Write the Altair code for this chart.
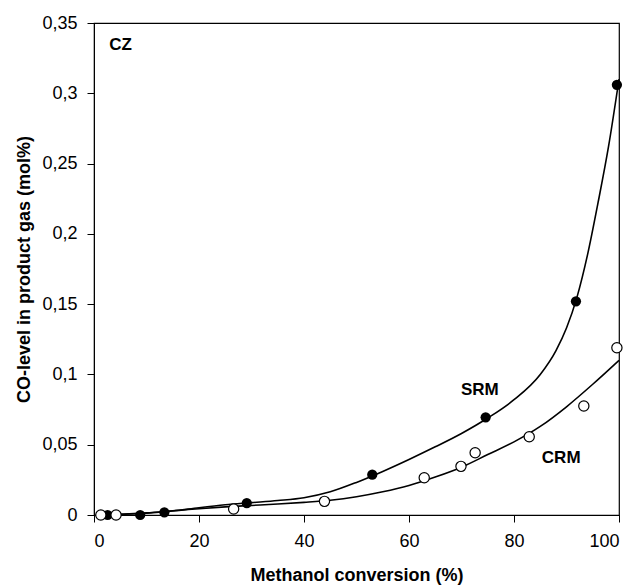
import altair as alt
import pandas as pd

# Measured points: steam reforming (SRM) and combined reforming (CRM)
srm_x = [2.6, 8.8, 13.4, 29.1, 53.0, 74.6, 91.8, 99.6]
srm_y = [0.0, 0.0, 0.0019, 0.0085, 0.0287, 0.0695, 0.152, 0.306]

crm_x = [1.3, 4.2, 26.6, 43.9, 62.9, 69.9, 72.6, 82.9, 93.3, 99.6]
crm_y = [0.0, 0.0, 0.0043, 0.0097, 0.0265, 0.0346, 0.0443, 0.0557, 0.0775, 0.119]

# Fitted trend curves
srm_fit_x = [1, 5, 10, 15, 20, 25, 30, 35, 40, 45, 50, 55, 60, 65, 70, 75, 80, 85, 88, 90, 92, 94, 96, 98, 100]
srm_fit_y = [0.0, 0.0005, 0.0012, 0.0028, 0.0052, 0.0073, 0.0088, 0.0103, 0.0123, 0.0165, 0.0232, 0.031, 0.0395, 0.0485, 0.058, 0.069, 0.082, 0.100, 0.117, 0.133, 0.155, 0.185, 0.222, 0.262, 0.310]

crm_fit_x = [1, 5, 10, 15, 20, 25, 30, 35, 40, 45, 50, 55, 60, 65, 70, 75, 80, 85, 90, 95, 100]
crm_fit_y = [0.0, 0.0005, 0.0015, 0.003, 0.0045, 0.0058, 0.0068, 0.0078, 0.009, 0.0105, 0.013, 0.0165, 0.021, 0.027, 0.034, 0.043, 0.052, 0.063, 0.077, 0.093, 0.110]

x_ticks = [0, 20, 40, 60, 80, 100]
y_ticks = [0, 0.05, 0.1, 0.15, 0.2, 0.25, 0.3, 0.35]

srm = pd.DataFrame({"x": srm_x, "y": srm_y})
crm = pd.DataFrame({"x": crm_x, "y": crm_y})
srm_fit = pd.DataFrame({"x": srm_fit_x, "y": srm_fit_y})
crm_fit = pd.DataFrame({"x": crm_fit_x, "y": crm_fit_y})

labels = pd.DataFrame({
    "x": [2.9, 69.9, 85.3],
    "y": [0.334, 0.089, 0.0403],
    "text": ["CZ", "SRM", "CRM"],
})

FONT = "Liberation Sans"

x_enc = alt.X(
    "x:Q",
    scale=alt.Scale(domain=[0, 100], nice=False),
    axis=alt.Axis(
        values=x_ticks,
        title="Methanol conversion (%)",
        titleFontSize=18,
        titleFontWeight="bold",
        titlePadding=16,
        labelFontSize=18,
        labelPadding=10,
        tickSize=7,
        grid=False,
        domainColor="black",
        tickColor="black",
        labelColor="black",
        titleColor="black",
    ),
)
y_enc = alt.Y(
    "y:Q",
    scale=alt.Scale(domain=[0, 0.35], nice=False),
    axis=alt.Axis(
        values=y_ticks,
        labelExpr="replace(format(datum.value, '.2~f'), '.', ',')",
        title="CO-level in product gas (mol%)",
        titleFontSize=18,
        titleFontWeight="bold",
        titlePadding=8,
        labelFontSize=18,
        labelPadding=10,
        tickSize=7,
        grid=False,
        domainColor="black",
        tickColor="black",
        labelColor="black",
        titleColor="black",
    ),
)

srm_line = alt.Chart(srm_fit).mark_line(
    color="black", strokeWidth=1.6, interpolate="monotone"
).encode(x=x_enc, y=y_enc)
crm_line = alt.Chart(crm_fit).mark_line(
    color="black", strokeWidth=1.6, interpolate="monotone"
).encode(x="x:Q", y="y:Q")

srm_pts = alt.Chart(srm).mark_point(
    shape="circle", filled=True, color="black", size=105, opacity=1
).encode(x="x:Q", y="y:Q")
crm_pts = alt.Chart(crm).mark_point(
    shape="circle", filled=True, fill="white", stroke="black", strokeWidth=1.2,
    size=105, opacity=1
).encode(x="x:Q", y="y:Q")

text = alt.Chart(labels).mark_text(
    font=FONT, fontSize=17, fontWeight="bold", color="black", align="left", baseline="middle"
).encode(x="x:Q", y="y:Q", text="text:N")

chart = alt.layer(srm_line, crm_line, srm_pts, crm_pts, text).properties(
    width=525,
    height=492,
    autosize=alt.AutoSizeParams(type="none"),
    padding={"left": 94, "top": 23, "right": 16, "bottom": 72},
).configure(font=FONT).configure_view(stroke="black", strokeWidth=1.2)

chart.save("out.html", embed_options={"renderer": "svg", "actions": False})
